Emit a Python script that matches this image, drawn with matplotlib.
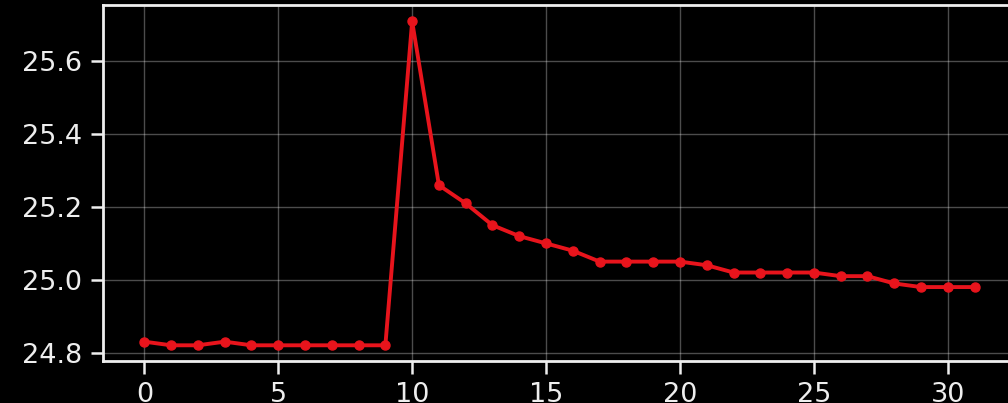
import matplotlib
matplotlib.use("Agg")
import matplotlib.pyplot as plt

# readings per step
steps = list(range(32))
values = [24.83, 24.82, 24.82, 24.83, 24.82, 24.82, 24.82, 24.82, 24.82, 24.82,
          25.71, 25.26, 25.21, 25.15, 25.12, 25.10, 25.08, 25.05, 25.05, 25.05,
          25.05, 25.04, 25.02, 25.02, 25.02, 25.02, 25.01, 25.01, 24.99, 24.98,
          24.98, 24.98]

plt.style.use("dark_background")

fig = plt.figure(figsize=(10.08, 4.03), dpi=100)
# axes runs a little past the right edge, as in the cropped original
ax = fig.add_axes([0.102, 0.103, 0.906, 0.884])

ax.plot(steps, values, color="#e8141c", linewidth=2.8, marker="o", markersize=6.5)

ax.grid(True, color="white", alpha=0.3, linewidth=1.0)
ax.set_xticks([0, 5, 10, 15, 20, 25, 30])
ax.set_yticks([24.8, 25.0, 25.2, 25.4, 25.6])
ax.tick_params(labelsize=19.5, length=9, width=1.8, colors="#eeeeee", pad=6)
for s in ax.spines.values():
    s.set_color("#eeeeee")
    s.set_linewidth(2)

fig.savefig("out.png", dpi=100)
